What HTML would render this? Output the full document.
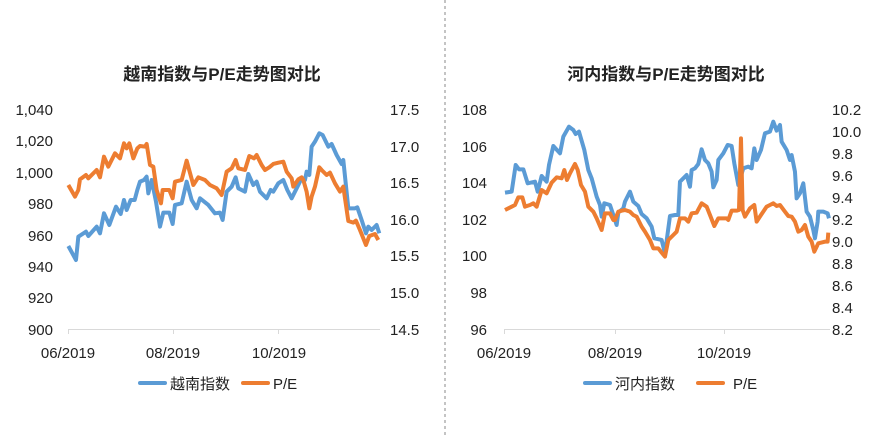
<!DOCTYPE html>
<html><head><meta charset="utf-8"><style>
body{margin:0;background:#fff;width:889px;height:435px;overflow:hidden}
svg{display:block}
text{font-family:"Liberation Sans","Noto Sans CJK SC",sans-serif;fill:#222}
.t{font-size:15px}
.h{font-size:17px;font-weight:bold}
</style></head><body>
<svg width="889" height="435" viewBox="0 0 889 435">
<line x1="445" y1="0" x2="445" y2="435" stroke="#888" stroke-dasharray="3,3"/>
<text class="h" x="222" y="80" text-anchor="middle">越南指数与P/E走势图对比</text>
<text class="h" x="666" y="80" text-anchor="middle">河内指数与P/E走势图对比</text>
<g class="t">
<g text-anchor="end">
<text x="53" y="115">1,040</text><text x="53" y="146">1,020</text><text x="53" y="178">1,000</text><text x="53" y="209">980</text><text x="53" y="241">960</text><text x="53" y="272">940</text><text x="53" y="303">920</text><text x="53" y="335">900</text>
<text x="487" y="115">108</text><text x="487" y="152">106</text><text x="487" y="188">104</text><text x="487" y="225">102</text><text x="487" y="261">100</text><text x="487" y="298">98</text><text x="487" y="335">96</text>
</g>
<text x="390" y="115">17.5</text><text x="390" y="152">17.0</text><text x="390" y="188">16.5</text><text x="390" y="225">16.0</text><text x="390" y="261">15.5</text><text x="390" y="298">15.0</text><text x="390" y="335">14.5</text>
<text x="832" y="115">10.2</text><text x="832" y="137">10.0</text><text x="832" y="159">9.8</text><text x="832" y="181">9.6</text><text x="832" y="203">9.4</text><text x="832" y="225">9.2</text><text x="832" y="247">9.0</text><text x="832" y="269">8.8</text><text x="832" y="291">8.6</text><text x="832" y="313">8.4</text><text x="832" y="335">8.2</text>
<g text-anchor="middle">
<text x="68" y="358">06/2019</text><text x="173" y="358">08/2019</text><text x="279" y="358">10/2019</text>
<text x="504" y="358">06/2019</text><text x="615" y="358">08/2019</text><text x="724" y="358">10/2019</text>
</g>
<text x="170" y="389">越南指数</text><text x="273" y="389">P/E</text>
<text x="615" y="389">河内指数</text><text x="733" y="389">P/E</text>
</g>
<g stroke-width="4" stroke-linecap="round">
<line x1="140" y1="383" x2="165" y2="383" stroke="#5B9BD5"/><line x1="243" y1="383" x2="268" y2="383" stroke="#ED7D31"/>
<line x1="585" y1="383" x2="610" y2="383" stroke="#5B9BD5"/><line x1="698" y1="383" x2="723" y2="383" stroke="#ED7D31"/>
</g>
<g stroke="#d9d9d9" stroke-width="1">
<line x1="68" y1="329.5" x2="380" y2="329.5"/><line x1="68.5" y1="329" x2="68.5" y2="334"/><line x1="173.5" y1="329" x2="173.5" y2="334"/><line x1="278.5" y1="329" x2="278.5" y2="334"/>
<line x1="504" y1="329.5" x2="830" y2="329.5"/><line x1="504.5" y1="329" x2="504.5" y2="334"/><line x1="615.5" y1="329" x2="615.5" y2="334"/><line x1="724.5" y1="329" x2="724.5" y2="334"/>
</g>
<g transform="translate(0,90) scale(0.3333)" fill="none" stroke-width="12" stroke-linejoin="round">
<polyline stroke="#5B9BD5" points="205,468 228,510 235,440 258,425 265,438 290,410 300,430 312,370 328,405 348,350 362,372 372,330 380,360 392,330 404,330 412,300 420,275 432,270 440,260 445,310 455,270 468,335 480,410 490,368 508,368 518,402 525,345 545,340 560,275 575,330 590,355 600,325 625,345 645,370 660,368 668,390 680,305 695,290 707,262 715,295 735,305 745,252 760,285 770,275 780,305 800,325 812,300 820,305 835,280 850,270 862,300 875,325 890,295 905,265 915,270 920,245 928,255 935,170 945,155 958,130 968,135 985,170 995,162 1010,195 1025,222 1030,210 1045,355 1065,355 1072,352 1085,390 1098,430 1105,410 1115,420 1130,405 1138,430"/>
<polyline stroke="#ED7D31" points="205,285 225,320 235,300 240,268 258,255 265,265 290,240 300,262 312,200 325,230 345,190 360,205 372,160 380,175 388,160 400,205 412,175 420,168 435,170 440,162 450,225 460,230 470,300 483,340 488,300 508,300 518,325 525,275 545,270 560,212 580,285 595,262 615,270 630,285 650,295 665,315 680,245 695,235 707,210 715,235 735,240 748,198 762,205 770,195 785,225 795,240 808,232 820,222 835,218 850,215 860,245 875,265 880,290 895,268 905,262 910,270 920,305 928,355 935,320 945,290 958,232 965,240 980,255 990,248 1005,280 1020,305 1030,290 1045,393 1060,398 1068,392 1080,420 1098,465 1108,438 1125,432 1135,450"/>
</g>
<g transform="translate(445,90) scale(0.3333)" fill="none" stroke-width="12" stroke-linejoin="round">
<polyline stroke="#5B9BD5" points="180,308 200,305 212,225 222,238 235,238 248,280 270,275 278,305 290,258 305,275 312,225 325,168 345,190 355,140 372,110 385,120 392,132 402,125 418,180 430,240 440,265 455,320 465,345 470,380 478,340 495,345 505,375 515,405 520,368 535,355 540,335 555,305 565,335 580,348 590,372 605,385 620,410 628,445 650,450 660,490 675,378 690,375 700,375 705,275 725,255 735,290 740,240 750,235 760,222 770,178 780,210 790,220 800,245 805,292 815,270 820,210 835,190 848,165 860,168 868,220 880,285 895,235 910,230 920,235 928,175 935,210 948,180 960,130 975,125 985,95 995,122 1005,105 1010,155 1025,180 1035,210 1040,195 1050,245 1055,325 1065,310 1075,280 1085,365 1095,380 1105,420 1110,445 1118,395 1120,365 1135,365 1148,370 1152,385"/>
<polyline stroke="#ED7D31" points="180,360 200,350 210,345 220,322 232,322 240,350 255,345 265,340 275,350 290,300 305,310 320,278 335,262 350,265 358,240 366,270 375,250 390,222 398,240 408,285 420,305 430,350 445,365 455,385 470,420 480,370 495,370 505,390 510,390 520,365 530,362 540,360 555,365 565,375 575,380 590,410 600,425 615,450 625,475 640,475 650,488 660,500 670,450 685,435 695,425 705,385 720,385 730,395 740,370 755,368 770,340 785,350 795,375 808,408 820,385 835,385 845,385 850,390 860,362 875,362 882,360 888,145 893,360 900,380 915,355 928,345 935,395 948,375 965,350 975,345 985,340 995,348 1005,345 1020,365 1030,378 1040,380 1050,395 1060,425 1070,420 1080,405 1090,440 1100,455 1108,485 1120,460 1140,455 1148,455 1150,428"/>
</g>
</svg>
</body></html>
